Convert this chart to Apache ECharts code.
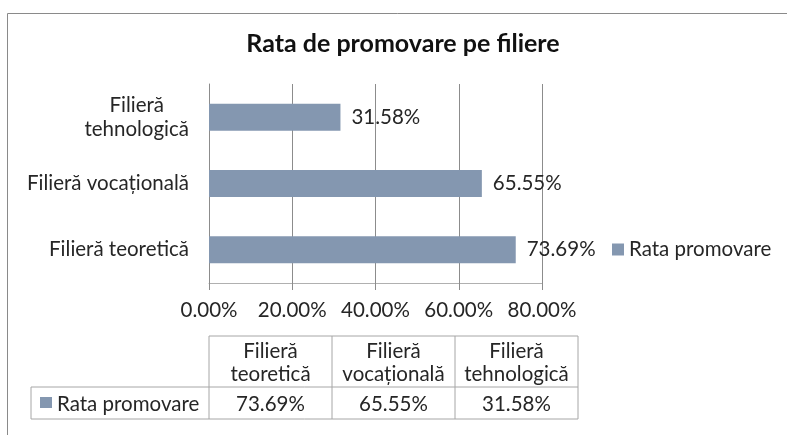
<!DOCTYPE html>
<html>
<head>
<meta charset="utf-8">
<script src="https://cdn.jsdelivr.net/npm/echarts@6/dist/echarts.min.js"></script>
<style>html,body{margin:0;padding:0;background:#fff}#c{width:787px;height:435px}</style>
</head>
<body>
<div id="c"></div>
<script>
const categories = ['Filieră teoretică', 'Filieră vocațională', 'Filieră tehnologică'];
const axisLabels = ['Filieră teoretică', 'Filieră vocațională', 'Filieră\ntehnologică'];
const tableHeaders = ['Filieră\nteoretică', 'Filieră\nvocațională', 'Filieră\ntehnologică'];
const seriesName = 'Rata promovare';
const values = [0.7369, 0.6555, 0.3158];
const axisTicks = [0, 0.2, 0.4, 0.6, 0.8];

const FONT = 'Lato';
const FS = 20.5;
const TXT = '#262626';
const GRID = '#8c8c8c';
const BAR = '#8497b0';
const pct = v => (v * 100).toFixed(2) + '%';

const chart = echarts.init(document.getElementById('c'), null, {renderer: 'canvas'});

// data table built from arrays
const tLeft = 209, colW = 123, hTop = 336, hBot = 387, rBot = 419, rowLeft = 31;
const tableEls = [];
const line = (x1, y1, x2, y2) => tableEls.push({type: 'line', shape: {x1, y1, x2, y2}, style: {stroke: '#a6a6a6', lineWidth: 1}, silent: true});
const nCols = tableHeaders.length;
const tRight = tLeft + colW * nCols;
line(tLeft, hTop, tRight, hTop);
line(rowLeft, hBot, tRight, hBot);
line(rowLeft, rBot, tRight, rBot);
line(rowLeft, hBot, rowLeft, rBot);
for (let i = 0; i <= nCols; i++) line(tLeft + colW * i, hTop, tLeft + colW * i, rBot);
tableHeaders.forEach((h, i) => {
  tableEls.push({type: 'text', x: tLeft + colW * i + colW / 2, y: (hTop + hBot) / 2 + 1, silent: true,
    style: {text: h, fill: TXT, font: FS + 'px ' + FONT, align: 'center', verticalAlign: 'middle', lineHeight: 23}});
  tableEls.push({type: 'text', x: tLeft + colW * i + colW / 2, y: (hBot + rBot) / 2 + 1, silent: true,
    style: {text: pct(values[i]), fill: TXT, font: FS + 'px ' + FONT, align: 'center', verticalAlign: 'middle'}});
});
tableEls.push({type: 'rect', shape: {x: 40, y: 397, width: 12, height: 11}, style: {fill: BAR}, silent: true});
tableEls.push({type: 'text', x: 57, y: (hBot + rBot) / 2 + 1, silent: true,
  style: {text: seriesName, fill: TXT, font: FS + 'px ' + FONT, align: 'left', verticalAlign: 'middle'}});

chart.setOption({
  backgroundColor: '#fff',
  animation: false,
  title: {
    text: 'Rata de promovare pe filiere',
    left: 403, top: 31, textAlign: 'center', padding: 0,
    textStyle: {fontFamily: FONT, fontWeight: 'bold', fontSize: 25, color: '#111'}
  },
  legend: {
    data: [seriesName],
    left: 612, top: 239, padding: 0,
    icon: 'rect', itemWidth: 12, itemHeight: 12, itemGap: 6,
    textStyle: {fontFamily: FONT, fontSize: FS, color: TXT}
  },
  grid: {left: 209, right: 245, top: 84, bottom: 152},
  xAxis: {
    type: 'value', min: axisTicks[0], max: axisTicks[axisTicks.length - 1], interval: 0.2,
    axisLine: {show: true, lineStyle: {color: '#b0b0b0'}},
    axisTick: {show: true, length: 7, lineStyle: {color: GRID}},
    splitLine: {show: true, lineStyle: {color: GRID, width: 1}},
    axisLabel: {formatter: v => pct(v), fontFamily: FONT, fontSize: FS, color: TXT, margin: 17}
  },
  yAxis: {
    type: 'category', data: categories,
    axisLine: {show: true, lineStyle: {color: GRID}},
    axisTick: {show: false},
    axisLabel: {
      fontFamily: FONT, fontSize: FS, color: TXT, margin: 20, lineHeight: 24,
      formatter: (v, i) => {
        const t = axisLabels[i];
        return t.indexOf('\n') >= 0 ? t.split('\n').map(p => '{c|' + p + '}').join('\n') : t;
      },
      rich: {c: {align: 'center', fontFamily: FONT, fontSize: FS, color: TXT, lineHeight: 24}}
    }
  },
  series: [{
    name: seriesName, type: 'bar', data: values, barWidth: 27,
    itemStyle: {color: BAR},
    label: {show: true, position: 'right', distance: 11, formatter: p => pct(p.value),
      fontFamily: FONT, fontSize: FS, color: TXT}
  }],
  graphic: [
    {type: 'rect', shape: {x: 7.5, y: 13.5, width: 800, height: 450}, style: {fill: 'none', stroke: '#8a8a8a', lineWidth: 1}, silent: true, z: -1},
    ...tableEls
  ]
});
</script>
</body>
</html>
